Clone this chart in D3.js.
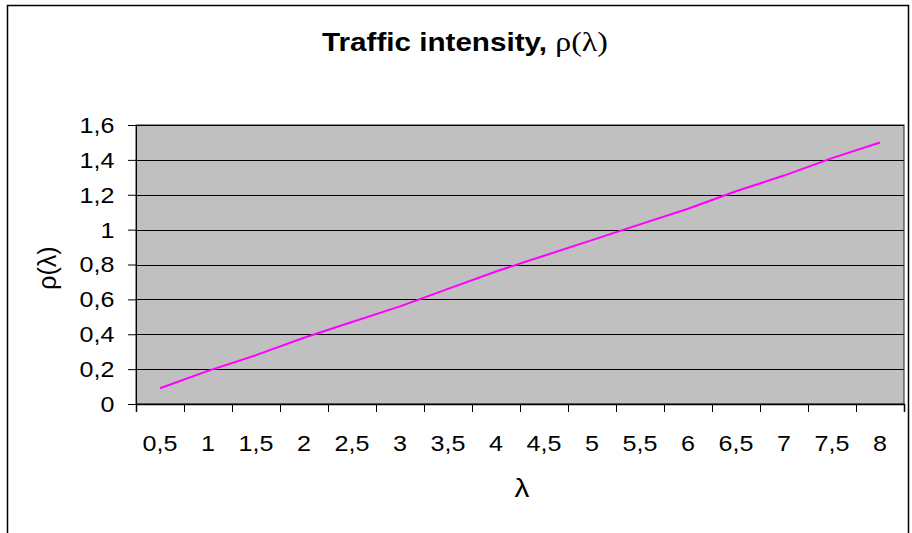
<!DOCTYPE html>
<html>
<head>
<meta charset="utf-8">
<script src="https://cdn.jsdelivr.net/npm/d3@7/dist/d3.min.js"></script>
<style>
  body { margin: 0; background: #fff; }
  text { font-family: "Liberation Sans", Arial, sans-serif; }
</style>
</head>
<body>
<div id="graph"></div>
<script>
// lambda categories and rho values
const lambdas = [0.5, 1, 1.5, 2, 2.5, 3, 3.5, 4, 4.5, 5, 5.5, 6, 6.5, 7, 7.5, 8]
const xLabels = ["0,5", "1", "1,5", "2", "2,5", "3", "3,5", "4", "4,5", "5", "5,5", "6", "6,5", "7", "7,5", "8"]
const rho = [0.09, 0.19, 0.28, 0.38, 0.47, 0.56, 0.66, 0.76, 0.85, 0.94, 1.03, 1.12, 1.22, 1.31, 1.41, 1.50]
const yTicks = [0, 0.2, 0.4, 0.6, 0.8, 1, 1.2, 1.4, 1.6]

const width = 912
const height = 533
const sx = 1.14 // the original text is a bit wide
const plotL = 136, plotR = 904, plotT = 125, plotB = 404

const svg = d3.select("#graph").append("svg")
    .attr("width", width)
    .attr("height", height)

// outer chart frame
svg.append("rect")
    .attr("x", 7.5)
    .attr("y", 5.5)
    .attr("width", 901)
    .attr("height", 600)
    .attr("fill", "#fff")
    .attr("stroke", "#000")
    .attr("stroke-width", 1.5)

const x = d3.scaleBand()
    .domain(lambdas)
    .range([plotL, plotR])
    .padding(0)

const xEdge = d3.scaleLinear()
    .domain([0, lambdas.length])
    .range([plotL, plotR])

const y = d3.scaleLinear()
    .domain([0, 1.6])
    .range([plotB, plotT])

const fmt = d => String(+d.toFixed(1)).replace(".", ",")

// plot area
svg.append("rect")
    .attr("x", plotL)
    .attr("y", plotT)
    .attr("width", plotR - plotL)
    .attr("height", plotB - plotT)
    .attr("fill", "#c0c0c0")
    .attr("stroke", "#222")
    .attr("stroke-width", 1)

// gridlines
svg.append("g")
    .selectAll("line")
    .data(yTicks.filter(d => d > 0))
    .join("line")
    .attr("x1", plotL)
    .attr("x2", plotR)
    .attr("y1", d => Math.round(y(d)) + 0.5)
    .attr("y2", d => Math.round(y(d)) + 0.5)
    .attr("stroke", "#000")

// Y axis
const yAxis = svg.append("g")
    .attr("transform", `translate(${plotL},0)`)
    .call(d3.axisLeft(y).tickValues(yTicks).tickSize(8).tickFormat(fmt))
yAxis.select(".domain").attr("stroke", "#000")
yAxis.selectAll(".tick line").attr("stroke", "#000")
yAxis.selectAll(".tick text")
    .attr("x", -19)
    .attr("dy", "0.34em")
    .attr("transform", `scale(${sx},1)`)
    .attr("font-size", 22)
    .attr("fill", "#000")

// X axis: boundary ticks
const xTickAxis = svg.append("g")
    .attr("transform", `translate(0,${plotB})`)
    .call(d3.axisBottom(xEdge).tickValues(d3.range(lambdas.length + 1)).tickSize(8).tickFormat(""))
xTickAxis.select(".domain").attr("stroke", "#000").attr("stroke-width", 1.5)
xTickAxis.selectAll(".tick line").attr("stroke", "#000")

// X axis: category labels
const xAxis = svg.append("g")
    .attr("transform", `translate(0,${plotB})`)
    .call(d3.axisBottom(x).tickSize(0).tickFormat((d, i) => xLabels[i]))
xAxis.select(".domain").remove()
xAxis.selectAll(".tick text")
    .attr("y", 47)
    .attr("dy", 0)
    .attr("transform", `scale(${sx},1)`)
    .attr("font-size", 22)
    .attr("fill", "#000")

// line
svg.append("path")
    .datum(rho)
    .attr("fill", "none")
    .attr("stroke", "#ff00ff")
    .attr("stroke-width", 2)
    .attr("d", d3.line()
        .x((d, i) => x(lambdas[i]) + x.bandwidth() / 2)
        .y(d => y(d)))

// Title
const title = svg.append("text")
    .attr("transform", `translate(465,51) scale(${sx},1)`)
    .attr("text-anchor", "middle")
    .attr("fill", "#000")
title.append("tspan")
    .attr("font-size", 26)
    .attr("font-weight", "bold")
    .text("Traffic intensity, ")
title.append("tspan")
    .attr("font-size", 28)
    .attr("font-family", "'Liberation Serif', serif")
    .text("ρ(λ)")

// axis titles
svg.append("text")
    .attr("transform", `translate(522,497) scale(${sx},1)`)
    .attr("text-anchor", "middle")
    .attr("font-size", 26)
    .attr("font-family", "'Liberation Serif', serif")
    .text("λ")

svg.append("text")
    .attr("transform", "translate(56,268) rotate(-90)")
    .attr("text-anchor", "middle")
    .attr("font-size", 25)
    .attr("font-family", "'Liberation Serif', serif")
    .text("ρ(λ)")
</script>
</body>
</html>
